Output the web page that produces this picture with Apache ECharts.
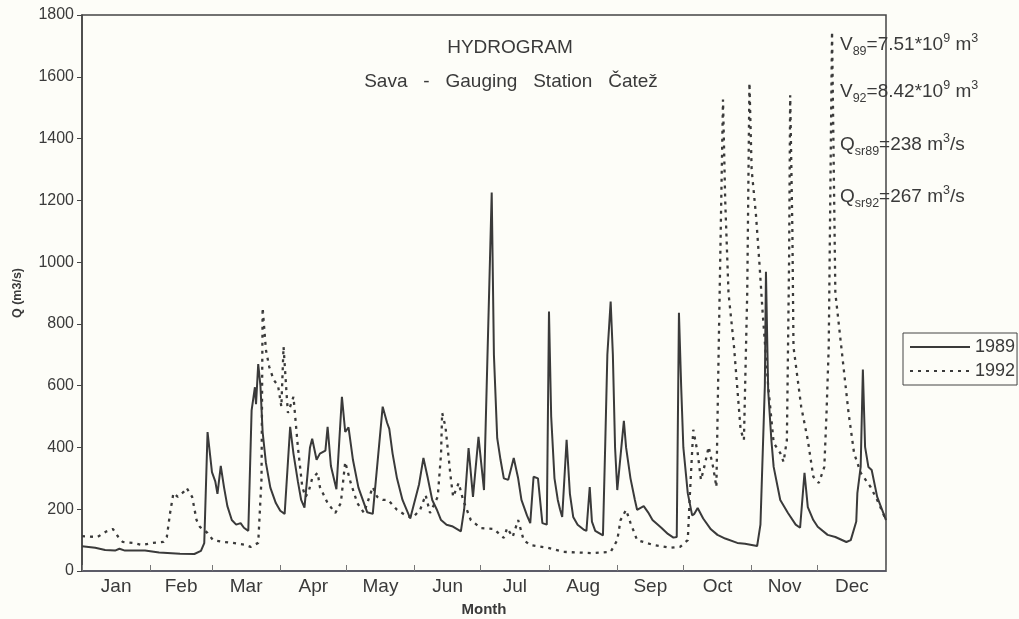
<!DOCTYPE html>
<html><head><meta charset="utf-8">
<script src="https://cdn.jsdelivr.net/npm/echarts@6/dist/echarts.min.js"></script>
<style>html,body{margin:0;padding:0;background:#fdfdf8}#c{width:1019px;height:619px}</style>
</head><body><div id="c"></div>
<script>
const months = ['Jan','Feb','Mar','Apr','May','Jun','Jul','Aug','Sep','Oct','Nov','Dec'];
const monthStarts = [0,31,59,90,120,151,181,212,243,273,304,334,365];
const yTicks = [0,200,400,600,800,1000,1200,1400,1600,1800];

const day89 = [0,6,10.5,15,17,19.5,28.6,35,44.5,51,54,55.5,57,59,60.5,61.5,63,64.5,66,68,70,72,73.5,75.5,77,78.5,79,80,81,82,83.5,85.5,88,90,92,94.5,96,98,99.5,101,103.5,104.5,106.5,108,110.5,111.5,113,115.5,118,119.5,121,123,125.5,128,129.5,132,136.5,138.5,139.5,141,143,145.5,149,153,155,157,159,161,163,165.5,168,172,173.5,175.5,177.5,180,182.5,186,187,188.5,190,191.5,193.5,196,198,199.5,202,203.5,205,207,209,211,212,213,214.5,216,217,218,220,221.5,223,225,228,229,230.5,231.5,233,236.5,237.5,238.5,240,241,242,243,246,247,249,251,252,255,257,259,263,266,268.5,270,271,272,273,275,277,278,279.5,282,285.5,288.5,292,297.5,301,306.5,308,310,310.5,311.5,313,314,317,320.5,324,326,328,329.5,332,334,338.5,342,347,349,351.5,352,353.5,354.5,355.5,357,358.5,361,365];
const q89 = [80,75,68,66,72,66,66,60,56,55,65,90,450,320,290,250,340,270,210,165,150,155,140,130,520,595,540,670,600,450,350,270,220,195,185,467,380,290,230,205,400,428,360,380,390,467,340,265,564,450,465,360,270,220,190,185,532,480,460,380,300,230,170,280,366,300,230,200,165,150,145,128,200,398,240,434,262,1225,700,430,360,300,295,366,300,230,180,155,305,300,155,150,840,500,300,230,200,175,425,250,175,150,133,130,272,160,130,115,400,700,872,700,400,262,486,400,300,230,198,210,190,165,140,120,108,110,836,600,400,252,180,185,204,170,135,117,105,91,88,81,150,600,969,586,420,337,230,188,150,140,318,207,165,143,117,110,94,100,160,252,337,652,402,337,327,240,165];

const day92 = [0,7,11,14,16.5,18.5,23,27.5,32,37,38.5,40,41.5,43.5,46,47.5,50,52,53.5,57,59.5,63.5,68.5,74,76.5,80,81.5,82,83.5,85,87,89,90.5,91.5,93,93.5,94.5,96,98,100,101.5,103,104.5,107,108,111.5,115,117.5,119.5,122,125,128,130,132,134,136.5,139,143,147,150,153.5,156,158,161.5,163,163.5,165,167.5,168.5,171,173,176.5,181,187,191.5,193,195.5,198,200.5,203.5,211.5,218.5,231,235.5,240,243,244.5,247,249,252,259.5,267,271.5,275,276,277.5,279.5,281,282.5,284.5,286.5,288,289,291,292,293,293.5,296,299,300.5,302,303,304,306,307.5,309,311.5,314,317,318.5,320,321,321.5,322.5,323,326.5,329.5,332,334.5,337,338,339,340.5,342,343,345.5,348,350.5,353.5,358,361,365];
const q92 = [113,110,128,136,110,94,91,84,91,94,110,188,252,240,255,269,240,165,143,123,100,95,91,85,78,91,300,852,716,661,619,600,532,726,560,512,532,564,402,272,240,260,300,318,272,220,188,220,353,285,220,188,230,272,240,230,230,198,180,172,198,246,188,240,380,512,467,295,240,285,230,165,139,136,107,139,110,165,100,84,75,62,58,60,62,100,165,198,156,100,84,75,78,100,252,457,382,295,337,402,337,272,700,1526,1200,1000,900,726,457,424,900,1580,1300,1150,1000,836,600,415,382,353,424,1000,1540,1100,726,532,424,305,285,337,512,726,1746,900,836,674,512,382,318,272,230,165];

const notes = [
  ['V','89','=7.51*10','9',' m','3'],
  ['V','92','=8.42*10','9',' m','3'],
  ['Q','sr89','=238 m','3','/s',''],
  ['Q','sr92','=267 m','3','/s','']
];

const labelPos = months.map((m,i)=>(monthStarts[i]+monthStarts[i+1])/2);
const textColor = '#3a3a3a';
const lineColor = '#3a3a3a';
const FF = 'Liberation Sans, Arial';

function pairs(xs, ys){ return xs.map((x,i)=>[x, ys[i]]); }

function noteText(n){
  let s = '{m|'+n[0]+'}{sub|'+n[1]+'}{m|'+n[2]+'}{sup|'+n[3]+'}{m|'+n[4]+'}';
  if(n[5]) s += '{sup|'+n[5]+'}';
  return s;
}
const noteY = [45, 92, 145, 197];
const graphics = [
  {type:'text', style:{text:'HYDROGRAM', x:510, y:48, align:'center', verticalAlign:'middle', fontSize:19, fontFamily:FF, fill:textColor}},
  {type:'text', style:{text:'Sava   -   Gauging   Station   Čatež', x:511, y:82, align:'center', verticalAlign:'middle', fontSize:19, fontFamily:FF, fill:textColor}}
];
notes.forEach((n,i)=>{
  graphics.push({type:'text', z:10, style:{
    text: noteText(n), x:840, y:noteY[i], verticalAlign:'middle', fill:textColor,
    fontFamily:FF,
    rich:{
      m:{fontSize:19, lineHeight:26, fill:textColor, verticalAlign:'middle', fontFamily:FF},
      sub:{fontSize:12.5, lineHeight:15, fill:textColor, verticalAlign:'bottom', fontFamily:FF},
      sup:{fontSize:12.5, lineHeight:15, fill:textColor, verticalAlign:'top', fontFamily:FF}
    }
  }});
});

const chart = echarts.init(document.getElementById('c'));
chart.setOption({
  backgroundColor:'#fdfdf8',
  animation:false,
  textStyle:{fontFamily:FF, color:textColor},
  grid:{left:82, right:133, top:15, bottom:48, outerBoundsMode:'none', containLabel:false,
    show:true, borderColor:'#444', borderWidth:1.5, backgroundColor:'transparent'},
  legend:{
    left:903, top:333, orient:'vertical', itemWidth:60, itemHeight:14, itemGap:6,
    borderColor:'#444', borderWidth:1, padding:[5,2,5,6],
    textStyle:{fontSize:18, color:textColor},
    itemStyle:{color:'transparent', borderWidth:0, opacity:0},
    data:['1989','1992']
  },
  xAxis:{
    type:'value', min:0, max:365, name:'Month', nameLocation:'middle', nameGap:31,
    nameTextStyle:{fontSize:15, fontWeight:'bold', color:textColor},
    axisLine:{show:true, lineStyle:{color:'#556', width:1.5}},
    axisTick:{show:true, customValues:monthStarts, length:6, inside:true, lineStyle:{color:'#777'}},
    axisLabel:{customValues:labelPos, fontSize:19, color:textColor, margin:6,
      formatter:(v)=>{ const i = labelPos.indexOf(v); return i>=0?months[i]:''; }},
    splitLine:{show:false}
  },
  yAxis:{
    type:'value', min:0, max:1800, interval:200, name:'Q (m3/s)', nameLocation:'middle', nameGap:58,
    nameTextStyle:{fontSize:12.5, fontWeight:'bold', color:textColor},
    axisLine:{show:true, lineStyle:{color:'#444', width:1.5}},
    axisTick:{show:true, length:5, lineStyle:{color:'#444'}},
    axisLabel:{fontSize:16, color:textColor, margin:8,
      formatter:(v)=> yTicks.indexOf(v)>=0 ? String(v) : ''},
    splitLine:{show:false}
  },
  series:[
    {name:'1989', type:'line', data:pairs(day89,q89), symbol:'none', z:3,
      lineStyle:{color:lineColor, width:2, type:'solid'}, itemStyle:{color:lineColor}},
    {name:'1992', type:'line', data:pairs(day92,q92), symbol:'none', z:2,
      lineStyle:{color:lineColor, width:2.3, type:[3,5]}, itemStyle:{color:lineColor}}
  ],
  graphic: graphics
});
</script></body></html>
